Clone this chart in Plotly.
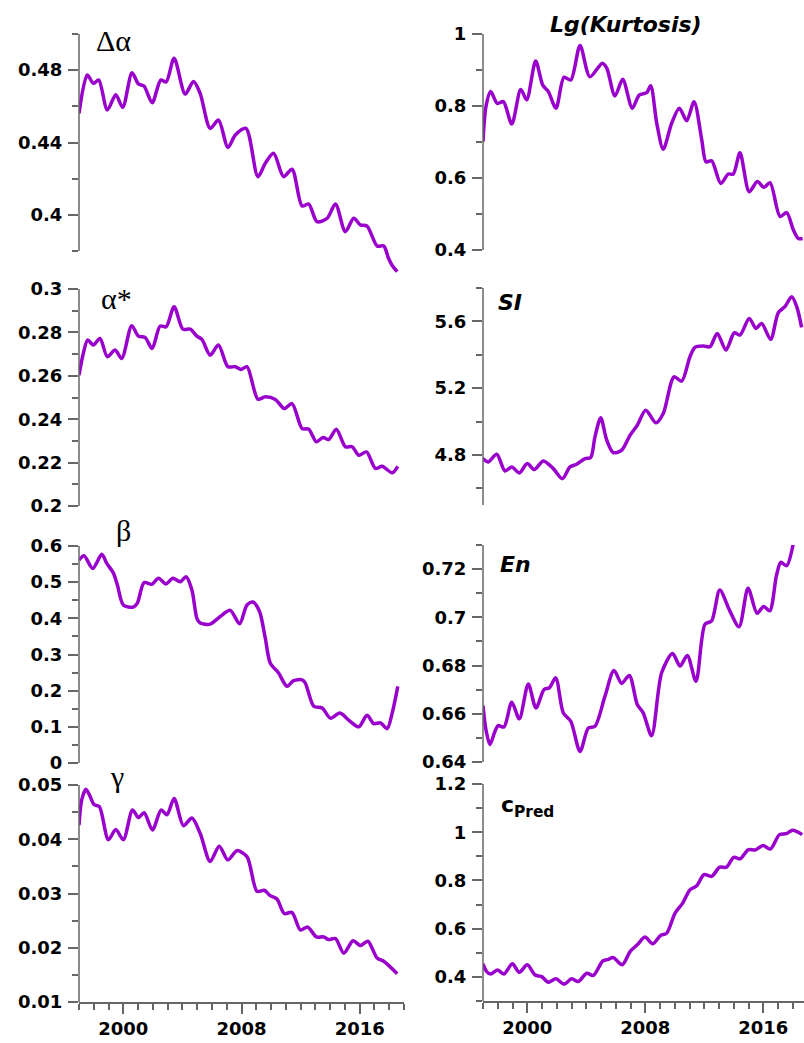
import plotly.graph_objects as go

# ---------------- data ----------------
da_x = [1997.0, 1997.56, 1997.97, 1998.33, 1998.92, 1999.49, 1999.96, 2000.59, 2001.02, 2001.4, 2001.95,
        2002.54, 2002.9, 2003.44, 2004.19, 2004.75, 2005.2, 2005.88, 2006.44, 2007.08, 2007.58, 2008.3,
        2009.11, 2009.61, 2010.17, 2010.85, 2011.42, 2012.1, 2012.55, 2013.11, 2013.8, 2014.36, 2015.03,
        2015.6, 2016.05, 2016.5, 2017.18, 2017.63, 2017.95, 2018.2, 2018.54]
da_y = [0.4561, 0.4773, 0.4727, 0.4746, 0.4580, 0.4664, 0.4594, 0.4786, 0.4724, 0.4712, 0.4620,
        0.4746, 0.4735, 0.4866, 0.4668, 0.4738, 0.4672, 0.4478, 0.4524, 0.4373, 0.4441, 0.4478,
        0.4211, 0.4285, 0.4340, 0.4211, 0.4252, 0.4049, 0.4060, 0.3962, 0.3981, 0.4060, 0.3907,
        0.3981, 0.3944, 0.3938, 0.3828, 0.3828, 0.3760, 0.3720, 0.3686]

as_x = [1997.0, 1997.29, 1997.59, 1997.97, 1998.42, 1998.92, 1999.44, 1999.89, 2000.57, 2001.02, 2001.47,
        2001.95, 2002.49, 2002.9, 2003.44, 2004.03, 2004.53, 2004.98, 2005.32, 2005.88, 2006.44, 2007.08,
        2007.58, 2007.96, 2008.37, 2009.11, 2009.61, 2010.29, 2010.9, 2011.42, 2012.1, 2012.55, 2013.07,
        2013.52, 2013.9, 2014.42, 2015.03, 2015.49, 2015.94, 2016.46, 2017.07, 2017.52, 2018.2, 2018.58]
as_y = [0.2603, 0.2703, 0.2765, 0.2742, 0.2772, 0.2688, 0.2719, 0.2680, 0.2831, 0.2783, 0.2777,
        0.2726, 0.2829, 0.2826, 0.2918, 0.2815, 0.2815, 0.2783, 0.2768, 0.2695, 0.2742, 0.2642,
        0.2642, 0.2629, 0.2642, 0.2492, 0.2503, 0.2491, 0.2449, 0.2472, 0.2357, 0.2354, 0.2296,
        0.2316, 0.2306, 0.2354, 0.2273, 0.2273, 0.2234, 0.2249, 0.2173, 0.2183, 0.2153, 0.2183]

b_x = [1997.0, 1997.34, 1997.93, 1998.54, 1998.88, 1999.33, 1999.6, 2000.0, 2000.68, 2000.95, 2001.41,
       2001.93, 2002.38, 2002.88, 2003.35, 2003.85, 2004.25, 2004.64, 2004.98, 2005.2, 2005.88, 2006.56,
       2007.24, 2007.87, 2008.37, 2008.77, 2009.22, 2009.61, 2009.95, 2010.51, 2011.08, 2011.53, 2012.1,
       2012.32, 2012.89, 2013.46, 2014.02, 2014.66, 2015.27, 2015.94, 2016.5, 2016.95, 2017.41, 2017.86,
       2018.2, 2018.58]
b_y = [0.561, 0.573, 0.538, 0.577, 0.552, 0.525, 0.492, 0.437, 0.431, 0.442, 0.499,
       0.494, 0.511, 0.495, 0.511, 0.501, 0.515, 0.479, 0.400, 0.387, 0.384, 0.405,
       0.422, 0.385, 0.437, 0.445, 0.419, 0.345, 0.276, 0.249, 0.212, 0.228, 0.230,
       0.221, 0.157, 0.152, 0.124, 0.138, 0.118, 0.100, 0.132, 0.109, 0.111, 0.095,
       0.138, 0.212]

g_x = [1997.0, 1997.18, 1997.47, 1997.75, 1998.02, 1998.38, 1998.99, 1999.49, 2000.0, 2000.62, 2001.02,
       2001.41, 2001.97, 2002.56, 2002.95, 2003.44, 2004.07, 2004.64, 2005.2, 2005.88, 2006.49, 2007.08,
       2007.69, 2008.37, 2009.05, 2009.54, 2009.95, 2010.4, 2010.9, 2011.42, 2011.98, 2012.48, 2013.07,
       2013.56, 2013.9, 2014.36, 2014.92, 2015.55, 2016.05, 2016.55, 2017.18, 2017.63, 2018.54]
g_y = [0.0426, 0.0472, 0.0492, 0.0479, 0.0464, 0.0460, 0.0399, 0.0418, 0.0399, 0.0454, 0.0440,
       0.0449, 0.0417, 0.0454, 0.0445, 0.0475, 0.0425, 0.0439, 0.0411, 0.0359, 0.0387, 0.0362,
       0.0379, 0.0368, 0.0304, 0.0306, 0.0296, 0.0290, 0.0263, 0.0265, 0.0233, 0.0238, 0.0220,
       0.0220, 0.0215, 0.0217, 0.0190, 0.0213, 0.0204, 0.0212, 0.0181, 0.0175, 0.0152]

k_x = [1997.0, 1997.2, 1997.52, 1997.97, 1998.38, 1998.95, 1999.56, 1999.96, 2000.57, 2001.05, 2001.43,
       2001.95, 2002.49, 2002.95, 2003.58, 2004.25, 2005.09, 2005.39, 2005.95, 2006.47, 2007.12, 2007.6,
       2008.1, 2008.37, 2008.78, 2009.22, 2009.79, 2010.31, 2010.81, 2011.31, 2011.83, 2012.12, 2012.5,
       2013.12, 2013.63, 2013.97, 2014.42, 2015.05, 2015.6, 2016.05, 2016.46, 2017.14, 2017.59, 2018.04,
       2018.38, 2018.67]
k_y = [0.701, 0.798, 0.840, 0.807, 0.812, 0.750, 0.846, 0.817, 0.925, 0.858, 0.840,
       0.794, 0.880, 0.872, 0.968, 0.881, 0.919, 0.905, 0.828, 0.874, 0.794, 0.831,
       0.837, 0.856, 0.752, 0.680, 0.752, 0.794, 0.759, 0.812, 0.706, 0.645, 0.648,
       0.585, 0.611, 0.611, 0.670, 0.562, 0.590, 0.574, 0.587, 0.493, 0.504, 0.456,
       0.432, 0.432]

si_x = [1997.0, 1997.36, 1997.93, 1998.49, 1998.95, 1999.46, 2000.0, 2000.48, 2001.09, 2001.77, 2002.38,
        2002.9, 2003.35, 2003.92, 2004.3, 2004.59, 2004.98, 2005.39, 2005.83, 2006.4, 2006.97, 2007.46,
        2008.03, 2008.73, 2009.22, 2009.95, 2010.47, 2011.03, 2011.37, 2011.94, 2012.39, 2012.88, 2013.47,
        2014.04, 2014.42, 2015.05, 2015.51, 2015.89, 2016.5, 2017.02, 2017.47, 2017.93, 2018.27, 2018.6]
si_y = [4.778, 4.758, 4.804, 4.704, 4.728, 4.692, 4.748, 4.712, 4.764, 4.718, 4.658,
        4.728, 4.744, 4.778, 4.784, 4.908, 5.022, 4.888, 4.814, 4.828, 4.918, 4.978,
        5.068, 4.992, 5.048, 5.268, 5.242, 5.388, 5.444, 5.452, 5.448, 5.528, 5.428,
        5.532, 5.518, 5.618, 5.558, 5.588, 5.492, 5.652, 5.688, 5.748, 5.688, 5.564]

en_x = [1997.0, 1997.2, 1997.47, 1997.81, 1998.03, 1998.42, 1998.95, 1999.46, 2000.07, 2000.59, 2001.14,
        2001.5, 2001.93, 2002.44, 2002.95, 2003.58, 2004.14, 2004.59, 2005.27, 2005.88, 2006.4, 2006.92,
        2007.46, 2007.86, 2008.43, 2009.11, 2009.85, 2010.36, 2010.85, 2011.44, 2012.05, 2012.5, 2013.05,
        2013.73, 2014.36, 2014.97, 2015.58, 2016.03, 2016.44, 2016.89, 2017.19, 2017.58, 2018.03]
en_y = [0.6634, 0.6534, 0.6472, 0.6527, 0.6551, 0.6545, 0.6648, 0.6579, 0.6724, 0.6624, 0.6701,
        0.6708, 0.6749, 0.6604, 0.6569, 0.6444, 0.6541, 0.6548, 0.6673, 0.6780, 0.6726, 0.6759,
        0.6638, 0.6604, 0.6509, 0.6770, 0.6850, 0.6798, 0.6842, 0.6735, 0.6971, 0.6985, 0.7113,
        0.7027, 0.6961, 0.7121, 0.7017, 0.7045, 0.7027, 0.7172, 0.7228, 0.7214, 0.7304]

cp_x = [1997.0, 1997.25, 1997.52, 1997.97, 1998.42, 1998.99, 1999.46, 2000.0, 2000.53, 2000.98, 2001.43,
        2001.95, 2002.49, 2003.01, 2003.46, 2004.03, 2004.48, 2005.12, 2005.5, 2005.83, 2006.44, 2006.97,
        2007.46, 2007.98, 2008.5, 2009.04, 2009.45, 2010.02, 2010.54, 2011.03, 2011.49, 2011.98, 2012.5,
        2013.05, 2013.5, 2014.0, 2014.45, 2014.97, 2015.49, 2015.98, 2016.48, 2017.1, 2017.56, 2018.0,
        2018.64]
cp_y = [0.454, 0.422, 0.412, 0.429, 0.412, 0.454, 0.419, 0.450, 0.408, 0.401, 0.378,
        0.392, 0.370, 0.392, 0.381, 0.415, 0.406, 0.466, 0.473, 0.480, 0.450, 0.505,
        0.533, 0.565, 0.537, 0.572, 0.581, 0.664, 0.706, 0.761, 0.778, 0.824, 0.817,
        0.855, 0.855, 0.896, 0.890, 0.927, 0.927, 0.945, 0.930, 0.990, 0.994, 1.008,
        0.990]

year_ticks = [2000, 2008, 2016]
year_minor = [1997, 1998, 1999, 2001, 2002, 2003, 2004, 2005, 2006, 2007, 2009, 2010,
              2011, 2012, 2013, 2014, 2015, 2017, 2018, 2019]

# y tick definitions: (major values, labels, minor values)
da_ticks = ([0.40, 0.44, 0.48], ["0.4", "0.44", "0.48"], [0.38, 0.42, 0.46, 0.50])
as_ticks = ([0.20, 0.22, 0.24, 0.26, 0.28, 0.30], ["0.2", "0.22", "0.24", "0.26", "0.28", "0.3"],
            [0.21, 0.23, 0.25, 0.27, 0.29])
b_ticks = ([0, 0.1, 0.2, 0.3, 0.4, 0.5, 0.6], ["0", "0.1", "0.2", "0.3", "0.4", "0.5", "0.6"],
           [0.05, 0.15, 0.25, 0.35, 0.45, 0.55])
g_ticks = ([0.01, 0.02, 0.03, 0.04, 0.05], ["0.01", "0.02", "0.03", "0.04", "0.05"],
           [0.015, 0.025, 0.035, 0.045])
k_ticks = ([0.4, 0.6, 0.8, 1.0], ["0.4", "0.6", "0.8", "1"], [0.5, 0.7, 0.9])
si_ticks = ([4.8, 5.2, 5.6], ["4.8", "5.2", "5.6"], [4.6, 5.0, 5.4, 5.8])
en_ticks = ([0.64, 0.66, 0.68, 0.70, 0.72], ["0.64", "0.66", "0.68", "0.7", "0.72"],
            [0.65, 0.67, 0.69, 0.71, 0.73])
cp_ticks = ([0.4, 0.6, 0.8, 1.0, 1.2], ["0.4", "0.6", "0.8", "1", "1.2"],
            [0.3, 0.5, 0.7, 0.9, 1.1])

# ---------------- layout helpers ----------------
W, H = 804, 1043
LINE = "#9900CC"
AX = "#666666"
TICKFONT = dict(family="DejaVu Sans", size=18, color="black", weight="bold")


def px_x(p):
    return p / W


def px_y(p):
    return 1 - p / H


# panels: (x, y, ticks, axis y range shown, plot y range, col, top px, bottom px of axis line)
panels = [
    (da_x, da_y, da_ticks, (0.38, 0.50), (0.366, 0.50), 0, 34, 251),
    (as_x, as_y, as_ticks, (0.20, 0.30), (0.20, 0.30), 0, 289, 506),
    (b_x, b_y, b_ticks, (0.0, 0.6), (0.0, 0.6), 0, 546, 763),
    (g_x, g_y, g_ticks, (0.01, 0.05), (0.01, 0.05), 0, 785, 1002),
    (k_x, k_y, k_ticks, (0.4, 1.0), (0.4, 1.0), 1, 34, 250),
    (si_x, si_y, si_ticks, (4.5, 5.8), (4.5, 5.8), 1, 288, 505),
    (en_x, en_y, en_ticks, (0.64, 0.73), (0.64, 0.73), 1, 545, 762),
    (cp_x, cp_y, cp_ticks, (0.3, 1.2), (0.3, 1.2), 1, 784, 1001),
]

col_px = [(79, 404), (483, 804)]
col_xrange = [(1997, 2019), (1997, 1997 + (804 - 483) / 14.75)]

fig = go.Figure()
layout = dict(width=W, height=H, margin=dict(l=0, r=0, t=0, b=0, pad=0), autosize=False,
              paper_bgcolor="white", plot_bgcolor="rgba(0,0,0,0)", showlegend=False)
shapes = []

for i, (xs, ys, ticks, shown, prange, col, top, bot) in enumerate(panels):
    n = i + 1
    xa = "xaxis" if n == 1 else f"xaxis{n}"
    ya = "yaxis" if n == 1 else f"yaxis{n}"
    xr = "x" if n == 1 else f"x{n}"
    yr = "y" if n == 1 else f"y{n}"
    scale = (bot - top) / (shown[1] - shown[0])
    plot_bot = top + (shown[1] - prange[0]) * scale
    plot_top = top + (shown[1] - prange[1]) * scale
    x0p, x1p = col_px[col]
    is_bottom = i in (3, 7)
    layout[xa] = dict(domain=[px_x(x0p), min(1.0, px_x(x1p))], range=list(col_xrange[col]),
                      anchor=yr, showgrid=False, zeroline=False, automargin=False,
                      visible=is_bottom, showline=is_bottom, linecolor=AX, linewidth=1.5,
                      ticks="outside", ticklen=10, tickwidth=1.5, tickcolor=AX,
                      tickmode="array", tickvals=year_ticks, ticktext=[str(v) for v in year_ticks],
                      tickfont=TICKFONT,
                      minor=dict(tickmode="array", tickvals=year_minor, ticks="outside",
                                 ticklen=6, tickwidth=1.5, tickcolor=AX),
                      fixedrange=True)
    layout[ya] = dict(domain=[px_y(plot_bot), px_y(plot_top)], range=list(prange), anchor=xr,
                      showgrid=False, zeroline=False, showline=False, automargin=False,
                      ticks="outside", ticklen=10, tickwidth=1.5, tickcolor=AX,
                      tickmode="array", tickvals=ticks[0], ticktext=ticks[1],
                      tickfont=TICKFONT, ticklabelstandoff=2,
                      minor=dict(tickmode="array", tickvals=ticks[2], ticks="outside",
                                 ticklen=6, tickwidth=1.5, tickcolor=AX),
                      fixedrange=True)
    shapes.append(dict(type="line", xref=f"{xr} domain", yref=yr, x0=0, x1=0,
                       y0=shown[0], y1=shown[1], line=dict(color=AX, width=1.5), layer="above"))
    fig.add_trace(go.Scatter(x=xs, y=ys, mode="lines", xaxis=xr, yaxis=yr,
                             line=dict(color=LINE, width=3.5, shape="spline", smoothing=0.8),
                             hoverinfo="skip"))

layout["shapes"] = shapes

greek = dict(family="Liberation Serif", size=30, color="black")
bi = dict(family="DejaVu Sans", size=22, color="black")


def ann(text, px, py, font, xanchor="center"):
    return dict(text=text, x=px_x(px), y=px_y(py), xref="paper", yref="paper",
                xanchor=xanchor, yanchor="middle", showarrow=False, font=font)


layout["annotations"] = [
    ann("Δα", 113, 40, greek),
    ann("α*", 116, 298, greek),
    ann("β", 123, 530, greek),
    ann("γ", 117, 776, greek),
    ann("<b><i>Lg(Kurtosis)</i></b>", 626, 24, bi),
    ann("<b><i>SI</i></b>", 496, 303, bi, "left"),
    ann("<b><i>En</i></b>", 498, 564, bi, "left"),
    ann("<b>c<sub>Pred</sub></b>", 499, 806, bi, "left"),
]

fig.update_layout(**layout)
fig.write_html("out.html", config={"displayModeBar": False},
               post_script="document.body.style.margin='0';document.body.style.padding='0';")
